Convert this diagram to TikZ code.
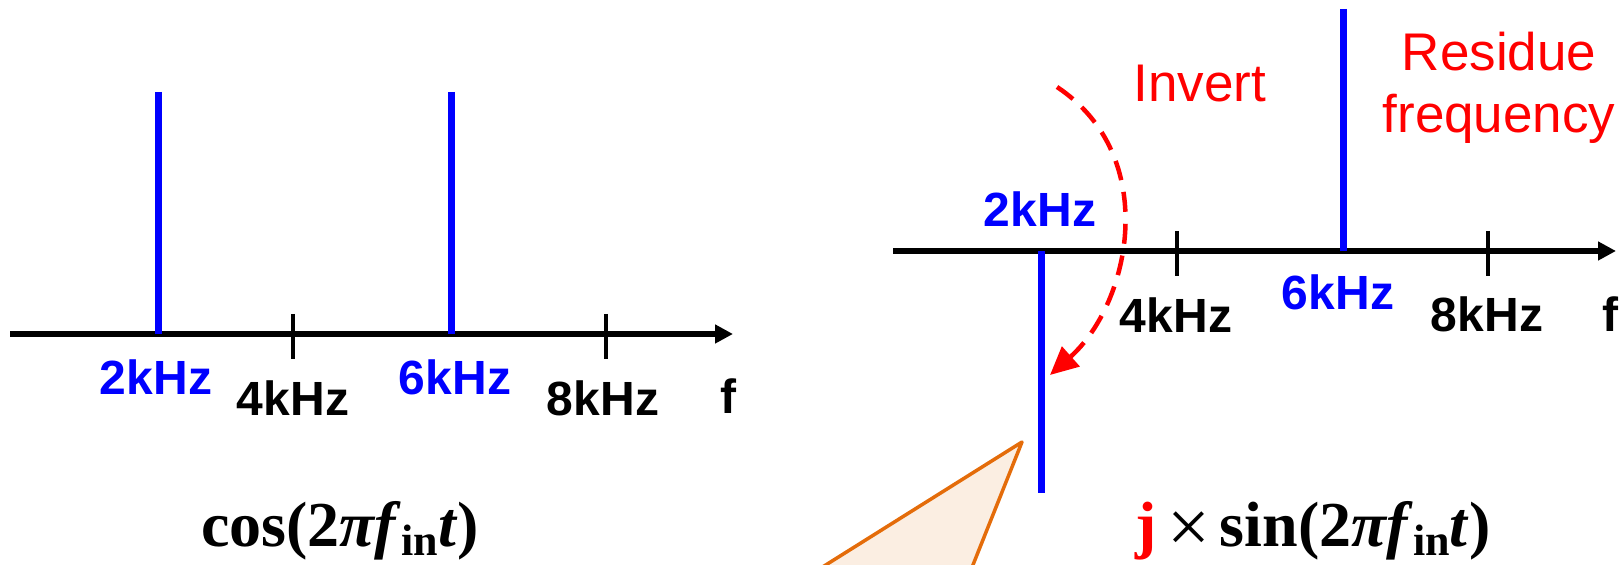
\documentclass[tikz,border=0pt]{standalone}
\usepackage{fontspec}
\setsansfont{Liberation Sans}
\newfontfamily\formulafont{Liberation Serif}
\usetikzlibrary{arrows.meta}
\definecolor{spikeblue}{RGB}{0,0,255}
\definecolor{notered}{RGB}{255,0,0}
\definecolor{calloutline}{RGB}{228,108,10}
\definecolor{calloutfill}{RGB}{251,238,226}
\tikzset{every picture/.style={line width=0.75pt}}
\tikzset{
  axisline/.style={line width=2.75pt,-{Triangle[length=9pt,width=9pt]}},
  tickmark/.style={line width=2pt},
  spike/.style={color=spikeblue,line width=3.5pt},
  khz/.style={font=\sffamily\bfseries\fontsize{24}{28}\selectfont,inner sep=0pt,anchor=base},
  note/.style={color=notered,font=\sffamily\fontsize{26.5}{31}\selectfont,inner sep=0pt,align=center},
  formulatext/.style={font=\formulafont\bfseries\fontsize{32}{36}\selectfont,inner sep=0pt}
}
\newcommand{\inidx}{\raisebox{-0.14em}{\fontsize{22}{22}\selectfont in}}
\newcommand{\cosformula}{cos(2\textit{πf}\inidx\textit{t})}
\newcommand{\sinformula}{\textcolor{notered}{j}\hspace{5pt}\raisebox{-3pt}{\mdseries\fontsize{38}{38}\selectfont ×}\hspace{5pt}sin(2\textit{πf}\inidx\textit{t})}

\begin{document}
\begin{tikzpicture}[x=0.5pt,y=0.5pt,yscale=-1,xscale=1]
\useasboundingbox (0,0) rectangle (1623,565);

%Shape: Triangle [callout]
\draw [color=calloutline,fill=calloutfill,line width=1.75pt,line join=round] (1022,442) -- (738,620) -- (951,620) -- cycle ;

%Straight Lines [left axis]
\draw [axisline] (10,334) -- (733,334) ;
\draw [tickmark] (293,314) -- (293,359) ;
\draw [tickmark] (606,314) -- (606,359) ;
%Straight Lines [left spikes]
\draw [spike] (158,92) -- (158,334) ;
\draw [spike] (451,92) -- (451,334) ;

%Straight Lines [right axis]
\draw [axisline] (893,251) -- (1616,251) ;
\draw [tickmark] (1177,231) -- (1177,276) ;
\draw [tickmark] (1488,231) -- (1488,276) ;
%Straight Lines [right spikes]
\draw [spike] (1041,251) -- (1041,493) ;
\draw [spike] (1343,9) -- (1343,251) ;

%Curve Lines [invert arrow]
\draw [color=notered,line width=2.25pt,dash pattern=on 10pt off 6pt,-{Triangle[length=14pt,width=13pt]}] (1057,87) .. controls (1161,156) and (1131,303) .. (1050,375) ;

% Text Node
\node [khz,text=spikeblue] (ltwo) at (156,395) {2kHz};
\node [khz] (lfour) at (293,416) {4kHz};
\node [khz,text=spikeblue] (lsix) at (455,395) {6kHz};
\node [khz] (leight) at (603,416) {8kHz};
\node [khz] (lf) at (728,414) {f};
% Text Node
\node [formulatext,anchor=base] (lcos) at (340,547) {\cosformula};

% Text Node
\node [khz,text=spikeblue] (rtwo) at (1040,227) {2kHz};
\node [khz] (rfour) at (1176,333) {4kHz};
\node [khz,text=spikeblue] (rsix) at (1338,310) {6kHz};
\node [khz] (reight) at (1487,332) {8kHz};
\node [khz] (rf) at (1610,332) {f};
% Text Node
\node [note,anchor=base] (invert) at (1200,102) {Invert};
\node [note,anchor=north] (residue) at (1499,31) {Residue\\frequency};
% Text Node
\node [formulatext,anchor=base west] (rsin) at (1135,547) {\sinformula};

\end{tikzpicture}
\end{document}
